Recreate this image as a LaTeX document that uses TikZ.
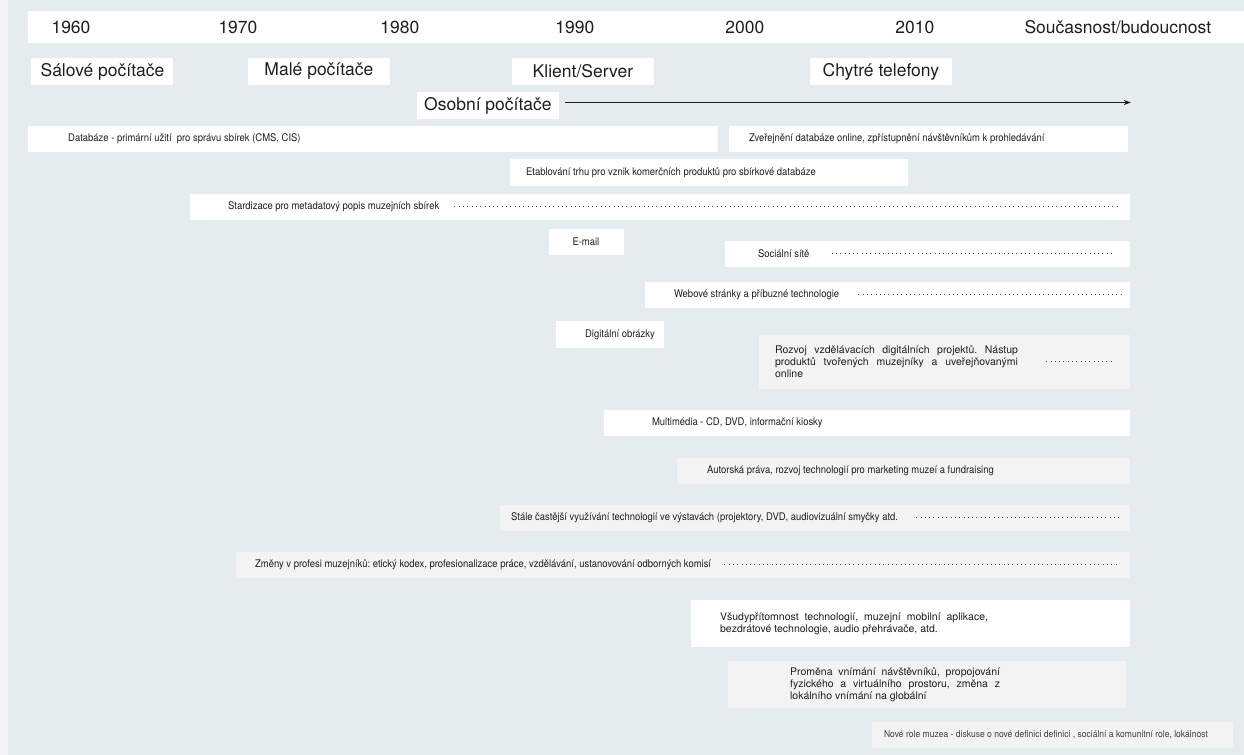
\documentclass[tikz,border=0pt]{standalone}
\usepackage{fontspec}
\setmainfont{TeX Gyre Heros}
\newfontfamily\narrowfont{TeX Gyre Heros}[FakeStretch=0.9]
\usetikzlibrary{arrows.meta}
\definecolor{canvas}{HTML}{E6EBEE}
\definecolor{margin}{HTML}{F2F4F5}
\definecolor{paleband}{HTML}{F3F3F3}
\definecolor{ink}{HTML}{1E1E1E}
\frenchspacing

\begin{document}
\begin{tikzpicture}[x=1pt, y=-1pt,
    band/.style={fill=white, inner sep=0pt, anchor=north west},
    greyband/.style={band, fill=paleband},
    era/.style={fill=white, inner sep=0pt, minimum width=142pt, minimum height=27pt, font=\fontsize{17.5}{20}\selectfont, text=ink},
    yearlbl/.style={inner sep=0pt, font=\fontsize{17.5}{20}\selectfont, text=ink},
    evtext/.style={anchor=west, inner sep=0pt, font=\narrowfont\fontsize{10.5}{12}\selectfont, text=ink},
    evpara/.style={evtext, align=justify, font=\fontsize{10.5}{12}\selectfont},
    dots/.style={line width=1pt, dash pattern=on 1pt off 3.3pt, color=ink!80},
    arrow/.style={-{Stealth[length=7pt, width=5pt]}, line width=1.1pt, color=ink}
]
    \fill[margin] (0,0) rectangle (1244,755);
    \fill[canvas] (8,0) rectangle (1244,755);

    \node[band, minimum width=1216pt, minimum height=32pt] (yearbar) at (28,11) {};
    \foreach \yr/\xx in {1960/71, 1970/238, 1980/400, 1990/575, 2000/745, 2010/915}
        \node[yearlbl] (y\yr) at (\xx,27) {\yr};
    \node[yearlbl] (ynow) at (1118,27) {Současnost/budoucnost};

    \node[era] (salove) at (102.5,71.5) {Sálové počítače};
    \node[era] (male) at (319,71.5) {Malé počítače};
    \node[era] (klient) at (583,71.5) {Klient/Server};
    \node[era] (chytre) at (881,71.5) {Chytré telefony};
    \node[era] (osobni) at (488,105.5) {Osobní počítače};
    \coordinate (arrowend) at (1131,102.5);
    \draw[arrow] ([shift={(6,-3)}]osobni.east) -- (arrowend);

    \node[band, minimum width=690pt, minimum height=26pt] (db) at (28,126) {};
    \node[evtext] (dbt) at (68,139) {Databáze - primární užití\ \ pro správu sbírek (CMS, CIS)};
    \node[band, minimum width=399pt, minimum height=26pt] (online) at (729,126) {};
    \node[evtext] (onlinet) at (749,139) {Zveřejnění databáze online, zpřístupnění návštěvníkům k prohledávání};
    \node[band, minimum width=398pt, minimum height=27pt] (market) at (510,159) {};
    \node[evtext] (marktet) at (526,172.5) {Etablování trhu pro vznik komerčních produktů pro sbírkové databáze};

    \node[band, minimum width=940pt, minimum height=26pt] (meta) at (190,194) {};
    \node[evtext] (metat) at (228,207) {Stardizace pro metadatový popis muzejních sbírek};
    \coordinate (metaend) at (1120,207);
    \draw[dots] ([xshift=15pt]metat.east) -- (metaend);

    \node[band, minimum width=75pt, minimum height=26pt] (email) at (549,229) {};
    \node[evtext, anchor=center] (emailt) at (586,242) {E-mail};

    \node[band, minimum width=405pt, minimum height=26pt] (social) at (725,241) {};
    \node[evtext] (socialt) at (758,254) {Sociální sítě};
    \coordinate (socialend) at (1115,254);
    \draw[dots] ([xshift=22pt]socialt.east) -- (socialend);

    \node[band, minimum width=485pt, minimum height=26pt] (web) at (645,282) {};
    \node[evtext] (webt) at (674,295) {Webové stránky a příbuzné technologie};
    \coordinate (webend) at (1125,295);
    \draw[dots] ([xshift=19pt]webt.east) -- (webend);

    \node[band, minimum width=108pt, minimum height=27pt] (images) at (556,321) {};
    \node[evtext] (imagest) at (585,334.5) {Digitální obrázky};

    \node[greyband, minimum width=371pt, minimum height=54pt] (edu) at (759,335) {};
    \node[evpara, text width=243pt] (edut) at (775,362) {Rozvoj vzdělávacích digitálních projektů. Nástup\linebreak produktů tvořených muzejníky a uveřejňovanými\linebreak online};
    \coordinate (eduend) at (1115,362);
    \draw[dots] ([xshift=28pt]edut.east) -- (eduend);

    \node[band, minimum width=526pt, minimum height=26pt] (multi) at (604,410) {};
    \node[evtext] (multit) at (652,423) {Multimédia - CD, DVD, informační kiosky};

    \node[greyband, minimum width=453pt, minimum height=26pt] (rights) at (677,458) {};
    \node[evtext] (rightst) at (707,471) {Autorská práva, rozvoj technologií pro marketing muzeí a fundraising};

    \node[greyband, minimum width=630pt, minimum height=26pt] (exhib) at (500,505) {};
    \node[evtext] (exhibt) at (511,518) {Stále častější využívání technologií ve výstavách (projektory, DVD, audiovizuální smyčky atd.};
    \coordinate (exhibend) at (1120,518);
    \draw[dots] ([xshift=18pt]exhibt.east) -- (exhibend);

    \node[greyband, minimum width=894pt, minimum height=26pt] (prof) at (236,552) {};
    \node[evtext] (proft) at (255,565) {Změny v profesi muzejníků: etický kodex, profesionalizace práce, vzdělávání, ustanovování odborných komisí};
    \coordinate (profend) at (1120,565);
    \draw[dots] ([xshift=13pt]proft.east) -- (profend);

    \node[band, minimum width=439pt, minimum height=47pt] (ubiq) at (691,600) {};
    \node[evpara, text width=268pt] (ubiqt) at (720,624) {Všudypřítomnost technologií, muzejní mobilní aplikace,\linebreak bezdrátové technologie, audio přehrávače, atd.};

    \node[greyband, minimum width=398pt, minimum height=47pt] (percept) at (728,661) {};
    \node[evpara, text width=210pt] (perceptt) at (790,685) {Proměna vnímání návštěvníků, propojování\linebreak fyzického a virtuálního prostoru, změna z\linebreak lokálního vnímání na globální};

    \node[greyband, minimum width=361pt, minimum height=26pt] (roles) at (872,722) {};
    \node[evtext, font=\narrowfont\fontsize{9.5}{10}\selectfont, text=ink!85] (rolest) at (884,735) {Nové role muzea - diskuse o nové definici definici , sociální a komunitní role, lokálnost};
\end{tikzpicture}
\end{document}
